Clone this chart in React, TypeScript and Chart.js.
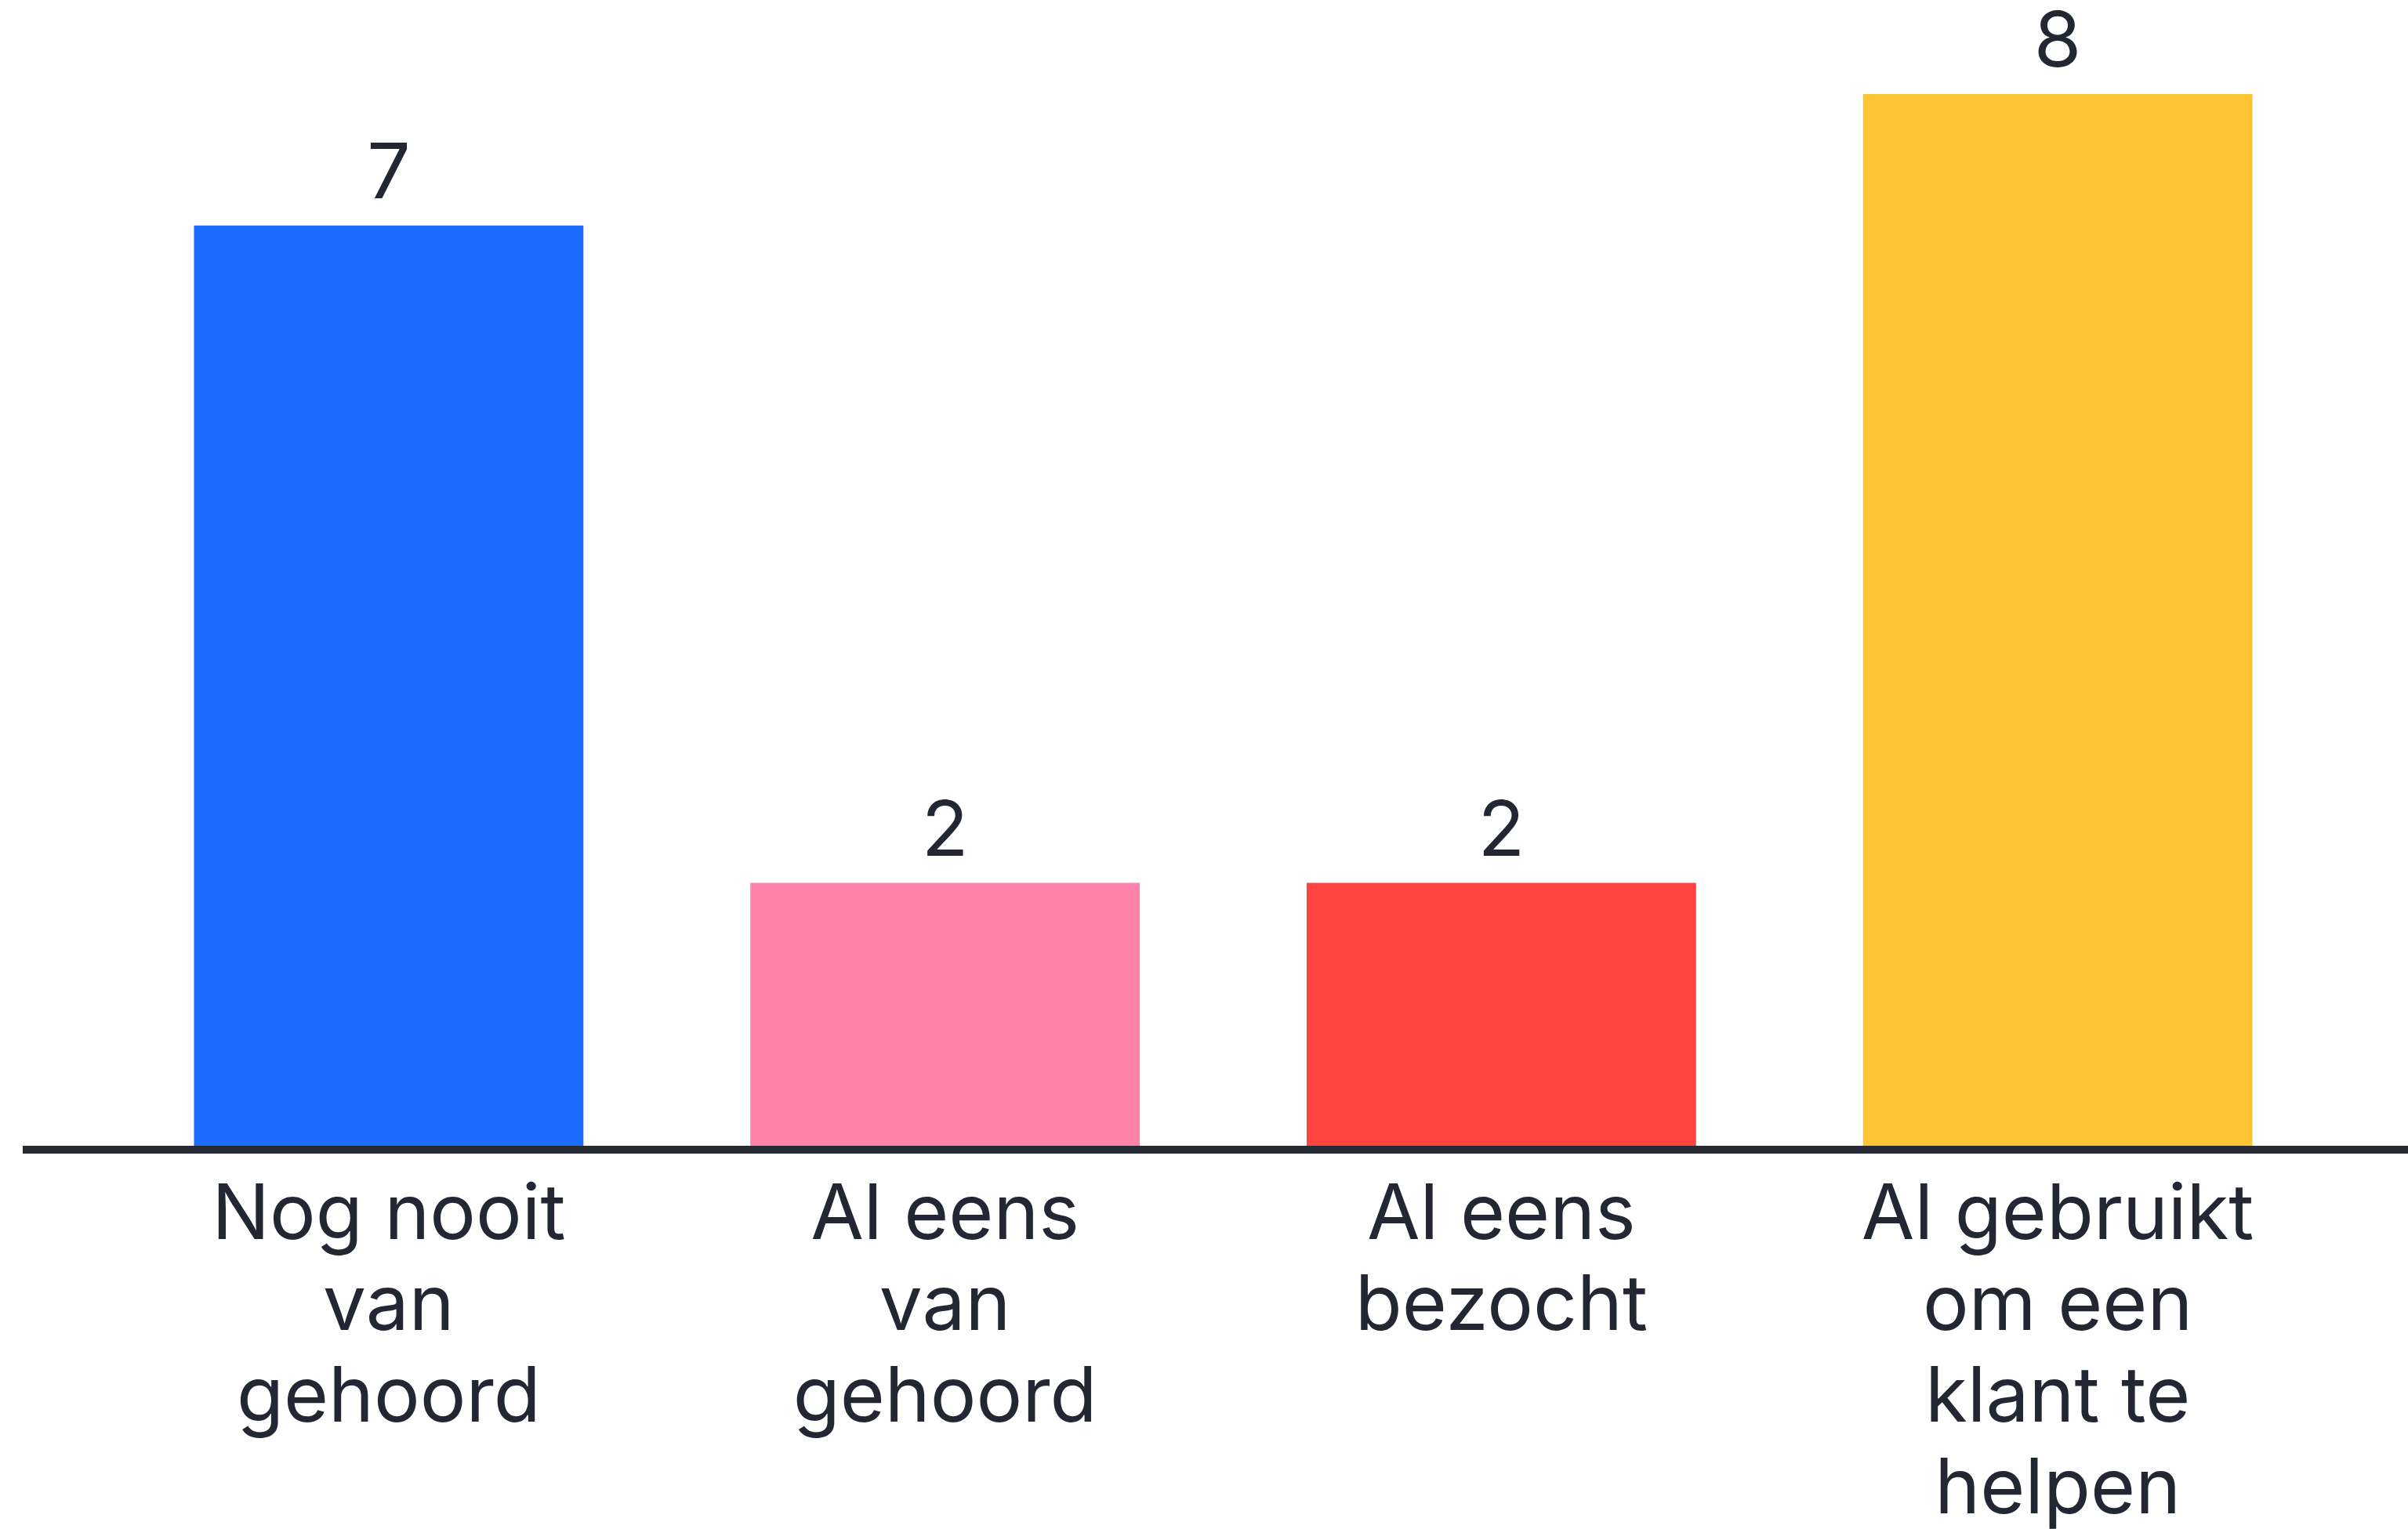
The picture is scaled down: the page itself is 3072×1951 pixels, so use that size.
import React, { useEffect, useRef } from "react";
import { Chart, registerables } from "chart.js";

Chart.register(...registerables);

const categories: string[][] = [
  ["Nog nooit", "van", "gehoord"],
  ["Al eens", "van", "gehoord"],
  ["Al eens", "bezocht"],
  ["Al gebruikt", "om een", "klant te", "helpen"],
];
const values: number[] = [7, 2, 2, 8];
const barColors: string[] = ["#1c6bff", "#ff82ab", "#ff433e", "#fdc434"];
const yMin = 0;
const yMax = 8;

const TEXT_COLOR = "#232733";
const FONT_FAMILY = "Inter, 'Noto Sans', sans-serif";
const FONT_SIZE = 98;

const valueLabelPlugin = {
  id: "valueLabels",
  afterDatasetsDraw(chart: any) {
    const ctx = chart.ctx;
    const meta = chart.getDatasetMeta(0);
    ctx.save();
    ctx.fillStyle = TEXT_COLOR;
    ctx.font = `400 ${FONT_SIZE}px ${FONT_FAMILY}`;
    ctx.textAlign = "center";
    ctx.textBaseline = "alphabetic";
    meta.data.forEach((bar: any, i: number) => {
      ctx.fillText(String(values[i]), bar.x, bar.y - 35);
    });
    ctx.restore();
  },
};

const baseLinePlugin = {
  id: "baseLine",
  afterDatasetsDraw(chart: any) {
    const ctx = chart.ctx;
    const y = chart.scales.y.getPixelForValue(0);
    ctx.save();
    ctx.fillStyle = "#252a35";
    ctx.fillRect(29, y, chart.width - 29, 10);
    ctx.restore();
  },
};

export default function App() {
  const canvasRef = useRef<HTMLCanvasElement | null>(null);

  useEffect(() => {
    if (!canvasRef.current) return;
    const chart = new Chart(canvasRef.current, {
      type: "bar",
      data: {
        labels: categories,
        datasets: [
          {
            data: values,
            backgroundColor: barColors,
            borderWidth: 0,
            barPercentage: 0.7,
            categoryPercentage: 1,
          },
        ],
      },
      options: {
        animation: false,
        responsive: false,
        devicePixelRatio: 1,
        layout: { padding: { top: 120, left: 141, right: 92, bottom: 0 } },
        plugins: {
          legend: { display: false },
          tooltip: { enabled: false },
        },
        scales: {
          x: {
            grid: { display: false, drawTicks: false },
            border: { display: false },
            ticks: {
              color: TEXT_COLOR,
              font: { family: FONT_FAMILY, size: FONT_SIZE, weight: "400", lineHeight: 1.19 },
              padding: 31,
              maxRotation: 0,
              minRotation: 0,
              autoSkip: false,
            },
            afterFit: (scale: any) => {
              scale.height = 489;
            },
          },
          y: {
            display: false,
            min: yMin,
            max: yMax,
          },
        },
      },
      plugins: [valueLabelPlugin, baseLinePlugin],
    });
    return () => chart.destroy();
  }, []);

  return (
    <div
      style={{
        position: "absolute",
        left: 0,
        top: 0,
        width: 3072,
        height: 1951,
        background: "#ffffff",
      }}
    >
      <canvas ref={canvasRef} width={3072} height={1951} style={{ width: 3072, height: 1951, display: "block" }} />
    </div>
  );
}
